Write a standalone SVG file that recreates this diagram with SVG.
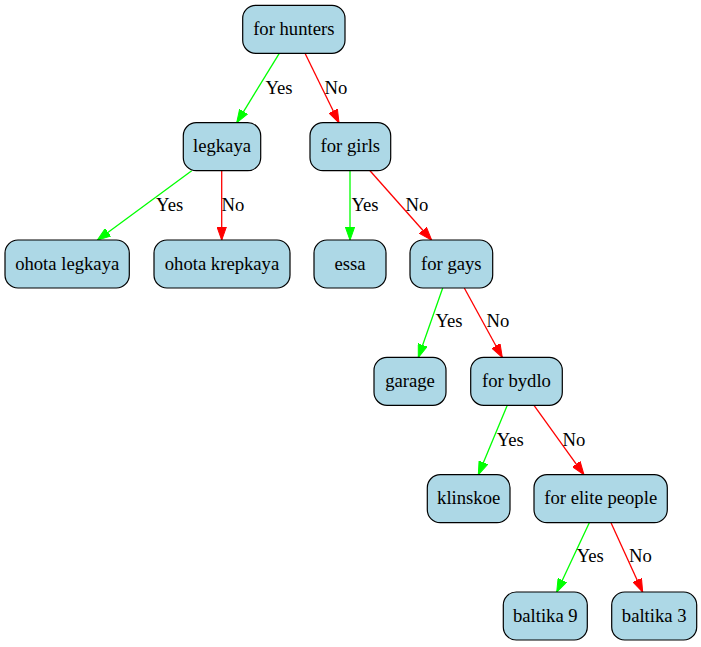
<svg xmlns="http://www.w3.org/2000/svg" width="701" height="647" viewBox="0 0 701 647">
<style>
.n rect{fill:#add8e6;stroke:#000;stroke-width:1.2}
text{font-family:'Liberation Serif','Times New Roman',Times,Tinos,'Nimbus Roman','Nimbus Roman No9 L','FreeSerif','Noto Serif','DejaVu Serif',serif;font-size:18.67px;fill:#000;text-anchor:middle}
.y{stroke:#00ff00;stroke-width:1.3;fill:none;marker-end:url(#ag)}
.r{stroke:#ff0000;stroke-width:1.3;fill:none;marker-end:url(#ar)}
</style>
<defs>
<marker id="ag" markerUnits="userSpaceOnUse" markerWidth="14" markerHeight="10" refX="13.3" refY="5" orient="auto" viewBox="0 0 14 10"><path d="M0,0.3 L13.3,5 L0,9.7 z" fill="#00ff00" stroke="#00ff00" stroke-width="1"/></marker>
<marker id="ar" markerUnits="userSpaceOnUse" markerWidth="14" markerHeight="10" refX="13.3" refY="5" orient="auto" viewBox="0 0 14 10"><path d="M0,0.3 L13.3,5 L0,9.7 z" fill="#ff0000" stroke="#ff0000" stroke-width="1"/></marker>
</defs>
<rect width="701" height="647" fill="#fff"/>
<g id="edges">
<line class="y" x1="279.3" y1="53.3" x2="236.7" y2="122.8"/>
<text x="279" y="94">Yes</text>
<line class="r" x1="305" y1="53.3" x2="339" y2="122.8"/>
<text x="336" y="94">No</text>
<line class="y" x1="191.7" y1="170.7" x2="97.3" y2="240.2"/>
<text x="169.7" y="210.7">Yes</text>
<line class="r" x1="221.7" y1="170.7" x2="221.7" y2="240.2"/>
<text x="233" y="210.7">No</text>
<line class="y" x1="350" y1="170.7" x2="350" y2="240.2"/>
<text x="365" y="210.7">Yes</text>
<line class="r" x1="370" y1="170.7" x2="431.7" y2="240.2"/>
<text x="417" y="210.7">No</text>
<line class="y" x1="442.7" y1="288" x2="418.3" y2="357.5"/>
<text x="449" y="327.3">Yes</text>
<line class="r" x1="464.3" y1="288" x2="502.3" y2="357.5"/>
<text x="498" y="327.3">No</text>
<line class="y" x1="507.3" y1="405.3" x2="478.3" y2="474.8"/>
<text x="510.3" y="445.7">Yes</text>
<line class="r" x1="534" y1="405.3" x2="584" y2="474.8"/>
<text x="574" y="445.7">No</text>
<line class="y" x1="589.3" y1="522.7" x2="556.7" y2="592.2"/>
<text x="590.3" y="562.3">Yes</text>
<line class="r" x1="611" y1="522.7" x2="642.7" y2="592.2"/>
<text x="640.5" y="562.3">No</text>
</g>
<g id="n_hunters" class="n"><rect x="242.7" y="5.3" width="102.3" height="48" rx="13"/><text x="293.8" y="35">for hunters</text></g>
<g id="n_legkaya" class="n"><rect x="183.3" y="122.7" width="77.4" height="48" rx="13"/><text x="222" y="152.3">legkaya</text></g>
<g id="n_girls" class="n"><rect x="310" y="122.7" width="80.7" height="48" rx="13"/><text x="350.3" y="152.3">for girls</text></g>
<g id="n_ohota_legkaya" class="n"><rect x="5" y="240" width="124.3" height="48" rx="13"/><text x="67.2" y="269.6">ohota legkaya</text></g>
<g id="n_ohota_krepkaya" class="n"><rect x="154" y="240" width="136" height="48" rx="13"/><text x="222" y="269.6">ohota krepkaya</text></g>
<g id="n_essa" class="n"><rect x="314" y="240" width="72" height="48" rx="13"/><text x="350" y="269.6">essa</text></g>
<g id="n_gays" class="n"><rect x="410" y="240" width="82.7" height="48" rx="13"/><text x="451.3" y="269.6">for gays</text></g>
<g id="n_garage" class="n"><rect x="374" y="357.3" width="72" height="48" rx="13"/><text x="410" y="387">garage</text></g>
<g id="n_bydlo" class="n"><rect x="470.7" y="357.3" width="91.6" height="48" rx="13"/><text x="516.5" y="387">for bydlo</text></g>
<g id="n_klinskoe" class="n"><rect x="427.3" y="474.7" width="82.7" height="48" rx="13"/><text x="468.7" y="504.3">klinskoe</text></g>
<g id="n_elite" class="n"><rect x="534" y="474.7" width="133.3" height="48" rx="13"/><text x="600.7" y="504.3">for elite people</text></g>
<g id="n_baltika9" class="n"><rect x="503.3" y="592" width="84" height="48" rx="13"/><text x="545.3" y="621.6">baltika 9</text></g>
<g id="n_baltika3" class="n"><rect x="611.7" y="592" width="85" height="48" rx="13"/><text x="654.2" y="621.6">baltika 3</text></g>
</svg>
